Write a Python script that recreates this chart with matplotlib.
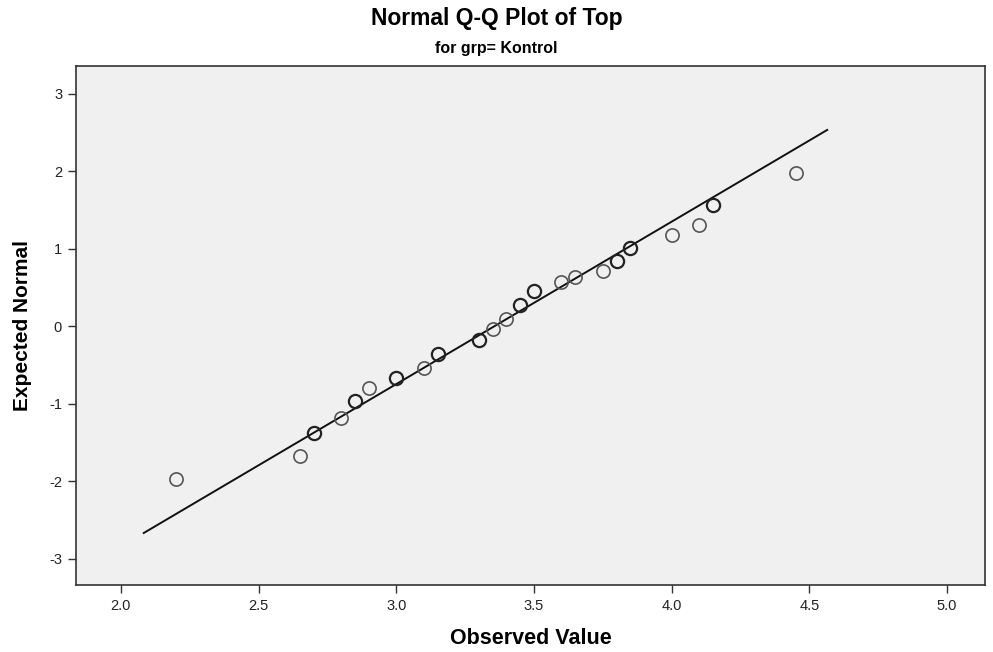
import matplotlib
matplotlib.use("Agg")
import matplotlib.pyplot as plt

observed = [2.20, 2.65, 2.70, 2.80, 2.85, 2.90, 3.00, 3.10, 3.15, 3.30, 3.35, 3.40,
            3.45, 3.50, 3.60, 3.65, 3.75, 3.80, 3.85, 4.00, 4.10, 4.15, 4.45]
expected = [-1.97, -1.68, -1.38, -1.19, -0.97, -0.80, -0.67, -0.54, -0.36, -0.18, -0.03, 0.09,
            0.27, 0.46, 0.57, 0.64, 0.71, 0.84, 1.01, 1.18, 1.31, 1.56, 1.98]
# number of cases at each point (ties drawn heavier)
counts = [1, 1, 2, 1, 2, 1, 2, 1, 2, 2, 1, 1,
          2, 2, 1, 1, 1, 2, 2, 1, 1, 2, 1]

# reference line (mean, sd) and its drawn x-range
line_mean = 3.356
line_sd = 0.477
line_x = [2.083, 4.565]

x_ticks = [2.0, 2.5, 3.0, 3.5, 4.0, 4.5, 5.0]
y_ticks = [-3, -2, -1, 0, 1, 2, 3]

plt.rcParams['font.family'] = ['Liberation Sans', 'DejaVu Sans']

fig = plt.figure(figsize=(9.93, 6.52), dpi=100)
ax = fig.add_axes([76/993, 1-585/652, (985-76)/993, (585-66)/652])
ax.set_facecolor('#f0f0f0')

ly = [(v - line_mean) / line_sd for v in line_x]
ax.plot(line_x, ly, color='#111111', lw=1.4, zorder=2)

for xo, ye, c in zip(observed, expected, counts):
    if c > 1:
        ax.plot(xo, ye, 'o', ms=9.5, mfc='none', mec='#222222', mew=1.6, zorder=3)
    else:
        ax.plot(xo, ye, 'o', ms=9.5, mfc='none', mec='#555555', mew=1.2, zorder=3)

ax.set_xlim(1.837, 5.138)
ax.set_ylim(-3.34, 3.36)
ax.set_xticks(x_ticks)
ax.set_xticklabels([f"{t:.1f}" for t in x_ticks])
ax.set_yticks(y_ticks)
ax.set_yticklabels([str(t) for t in y_ticks])
ax.tick_params(direction='out', length=6, width=1, colors='#333333', labelsize=10.5,
               labelcolor='#222222', pad=4)
for s in ax.spines.values():
    s.set_color('#333333')
    s.set_linewidth(1.2)

ax.set_xlabel('Observed Value', fontsize=15.5, fontweight='bold', labelpad=11)
ax.set_ylabel('Expected Normal', fontsize=15, fontweight='bold', labelpad=12)

fig.text(0.5, 1-19/652, 'Normal Q-Q Plot of Top', ha='center', va='center',
         fontsize=16.5, fontweight='bold')
fig.text(0.5, 1-48/652, 'for grp= Kontrol', ha='center', va='center',
         fontsize=11.5, fontweight='bold')

fig.savefig('out.png', dpi=100)
